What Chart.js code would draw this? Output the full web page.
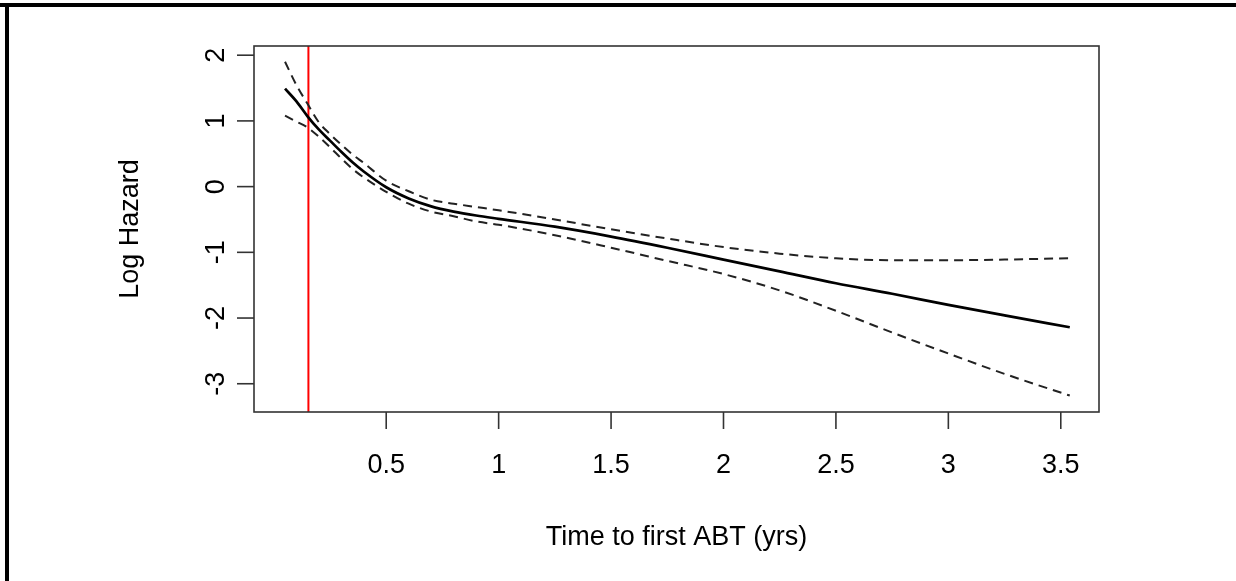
<!DOCTYPE html>
<html>
<head>
<meta charset="utf-8">
<script src="https://cdn.jsdelivr.net/npm/chart.js@4"></script>
<style>
  html, body { margin: 0; padding: 0; background: #fff; }
  canvas { display: block; }
</style>
</head>
<body>
<canvas id="hazardChart" width="1236" height="581"></canvas>
<script>
// values
const timeYrs   = [0.05, 0.1, 0.15, 0.2, 0.25, 0.3, 0.35, 0.4, 0.5, 0.6, 0.7, 0.8, 0.9, 1.0, 1.25, 1.5, 1.75, 2.0, 2.25, 2.5, 2.75, 3.0, 3.25, 3.54];
const logHazard = [1.49, 1.30, 1.07, 0.87, 0.70, 0.53, 0.37, 0.23, -0.01, -0.18, -0.30, -0.38, -0.44, -0.49, -0.61, -0.76, -0.93, -1.11, -1.29, -1.47, -1.63, -1.80, -1.96, -2.14];
const upperCI   = [1.90, 1.55, 1.26, 0.98, 0.80, 0.64, 0.49, 0.36, 0.09, -0.07, -0.20, -0.26, -0.31, -0.36, -0.50, -0.65, -0.79, -0.92, -1.02, -1.09, -1.12, -1.12, -1.11, -1.09];
const lowerCI   = [1.08, 0.99, 0.90, 0.76, 0.60, 0.43, 0.27, 0.14, -0.08, -0.26, -0.38, -0.45, -0.53, -0.58, -0.74, -0.93, -1.13, -1.33, -1.58, -1.89, -2.22, -2.54, -2.85, -3.18];
const xTicks = [0.5, 1, 1.5, 2, 2.5, 3, 3.5];
const yTicks = [-3, -2, -1, 0, 1, 2];
const cutoffYrs = 0.154;

const toPoints = (ys) => timeYrs.map((x, i) => ({ x: x, y: ys[i] }));
const FONT = "27px 'Liberation Sans', Arial, sans-serif";

// R-style box, ticks, labels and the red cutoff line
const baseAxes = {
  id: 'baseAxes',
  beforeDraw(chart) {
    const c = chart.ctx;
    c.save();
    c.fillStyle = '#fff';
    c.fillRect(0, 0, chart.width, chart.height);
    // outer frame (top and left only)
    c.fillStyle = '#000';
    c.fillRect(0, 3, chart.width, 4);
    c.fillRect(5, 3, 4, chart.height);
    c.restore();
  },
  beforeDatasetsDraw(chart) {
    const c = chart.ctx;
    const a = chart.chartArea;
    const xs = chart.scales.x;
    c.save();
    c.strokeStyle = '#ff0000';
    c.lineWidth = 2;
    const rx = xs.getPixelForValue(cutoffYrs);
    c.beginPath();
    c.moveTo(rx, a.top);
    c.lineTo(rx, a.bottom);
    c.stroke();
    c.restore();
  },
  afterDraw(chart) {
    const c = chart.ctx;
    const a = chart.chartArea;
    const xs = chart.scales.x, ys = chart.scales.y;
    c.save();
    c.strokeStyle = '#333';
    c.lineWidth = 1.6;
    c.strokeRect(a.left, a.top, a.right - a.left, a.bottom - a.top);

    c.fillStyle = '#000';
    c.font = FONT;
    // x ticks
    c.textAlign = 'center';
    c.textBaseline = 'alphabetic';
    xTicks.forEach(v => {
      const px = xs.getPixelForValue(v);
      c.beginPath();
      c.moveTo(px, a.bottom);
      c.lineTo(px, a.bottom + 17);
      c.stroke();
      c.fillText(String(v), px, a.bottom + 61);
    });
    // y ticks, rotated labels
    yTicks.forEach(v => {
      const py = ys.getPixelForValue(v);
      c.beginPath();
      c.moveTo(a.left, py);
      c.lineTo(a.left - 17, py);
      c.stroke();
      c.save();
      c.translate(a.left - 30, py);
      c.rotate(-Math.PI / 2);
      c.fillText(String(v), 0, 0);
      c.restore();
    });
    // axis titles
    c.textBaseline = 'middle';
    c.fillText('Time to first ABT (yrs)', (a.left + a.right) / 2, a.bottom + 126);
    c.save();
    c.translate(131, (a.top + a.bottom) / 2);
    c.rotate(-Math.PI / 2);
    c.fillText('Log Hazard', 0, 0);
    c.restore();
    c.restore();
  }
};

new Chart(document.getElementById('hazardChart'), {
  type: 'scatter',
  data: {
    datasets: [
      {
        label: 'Log hazard',
        data: toPoints(logHazard),
        showLine: true,
        borderColor: '#000',
        borderWidth: 2.7,
        pointRadius: 0,
        cubicInterpolationMode: 'monotone'
      },
      {
        label: 'Upper',
        data: toPoints(upperCI),
        showLine: true,
        borderColor: '#222',
        borderWidth: 2,
        borderDash: [9, 6],
        pointRadius: 0,
        cubicInterpolationMode: 'monotone'
      },
      {
        label: 'Lower',
        data: toPoints(lowerCI),
        showLine: true,
        borderColor: '#222',
        borderWidth: 2,
        borderDash: [9, 6],
        pointRadius: 0,
        cubicInterpolationMode: 'monotone'
      }
    ]
  },
  options: {
    responsive: false,
    animation: false,
    devicePixelRatio: 1,
    layout: { padding: { left: 254, right: 137, top: 46, bottom: 169 } },
    plugins: {
      legend: { display: false },
      tooltip: { enabled: false }
    },
    scales: {
      x: { type: 'linear', min: -0.088, max: 3.67, display: false },
      y: { type: 'linear', min: -3.43, max: 2.14, display: false }
    }
  },
  plugins: [baseAxes]
});
</script>
</body>
</html>
